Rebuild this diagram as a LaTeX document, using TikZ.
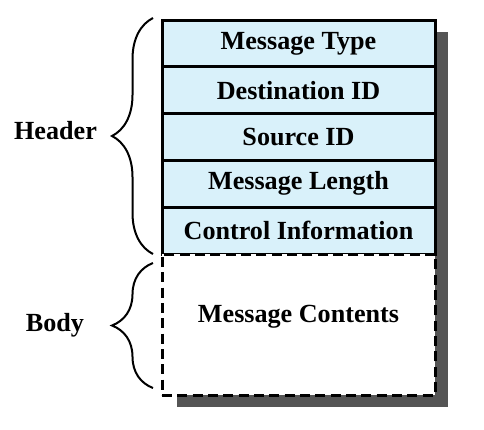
\documentclass[tikz,border=0pt]{standalone}
\usepackage{fontspec}
\setmainfont{Liberation Serif}
\usepackage{tikz}
\usetikzlibrary{decorations.pathreplacing}
\definecolor{fieldblue}{RGB}{217,241,250}
\definecolor{shadowgray}{RGB}{85,85,85}
\tikzset{
  field/.style={draw, line width=2.25pt, fill=fieldblue, minimum width=204.75pt, minimum height=35.1pt, inner sep=0pt, font=\fontsize{19.6}{23}\selectfont\bfseries},
  bodybox/.style={draw, line width=2.25pt, fill=white, dash pattern=on 7.5pt off 4pt, minimum width=204.75pt, minimum height=105.75pt, inner sep=0pt},
  lbl/.style={inner sep=0.75pt, font=\fontsize{19.6}{23}\selectfont\bfseries},
  bracket/.style={decorate, decoration={brace, amplitude=30.75pt}, line width=1.5pt}
}
\begin{document}
\begin{tikzpicture}[x=0.75pt,y=0.75pt,yscale=-1,xscale=1]
\useasboundingbox (0,0) rectangle (484,429);

%Shadow
\fill [shadowgray] (177,32) rectangle (448,407) ;

%Header fields
\node (mtype) [field] at (298.5,43.4) {Message Type};
\node (dest) [field] at (298.5,90.2) {Destination ID};
\node (src) [field] at (298.5,137) {Source ID};
\node (mlen) [field] at (298.5,183.8) {Message Length};
\node (ctrl) [field] at (298.5,230.6) {Control Information};

%Body
\node (body) [bodybox] at (298.5,324.5) {};
% Text Node
\node (contents) [lbl] at (298.5,317) {Message Contents};

%Braces
\coordinate (htop) at (153,18);
\coordinate (hbot) at (153,254);
\coordinate (btop) at (153,263);
\coordinate (bbot) at (153,388);
\draw [bracket] (hbot) -- (htop) ;
\draw [bracket] (bbot) -- (btop) ;

% Text Node
\node (header) [lbl] at (55.5,131) {Header};
% Text Node
\node (bodylbl) [lbl] at (55,325) {Body};

\end{tikzpicture}
\end{document}
